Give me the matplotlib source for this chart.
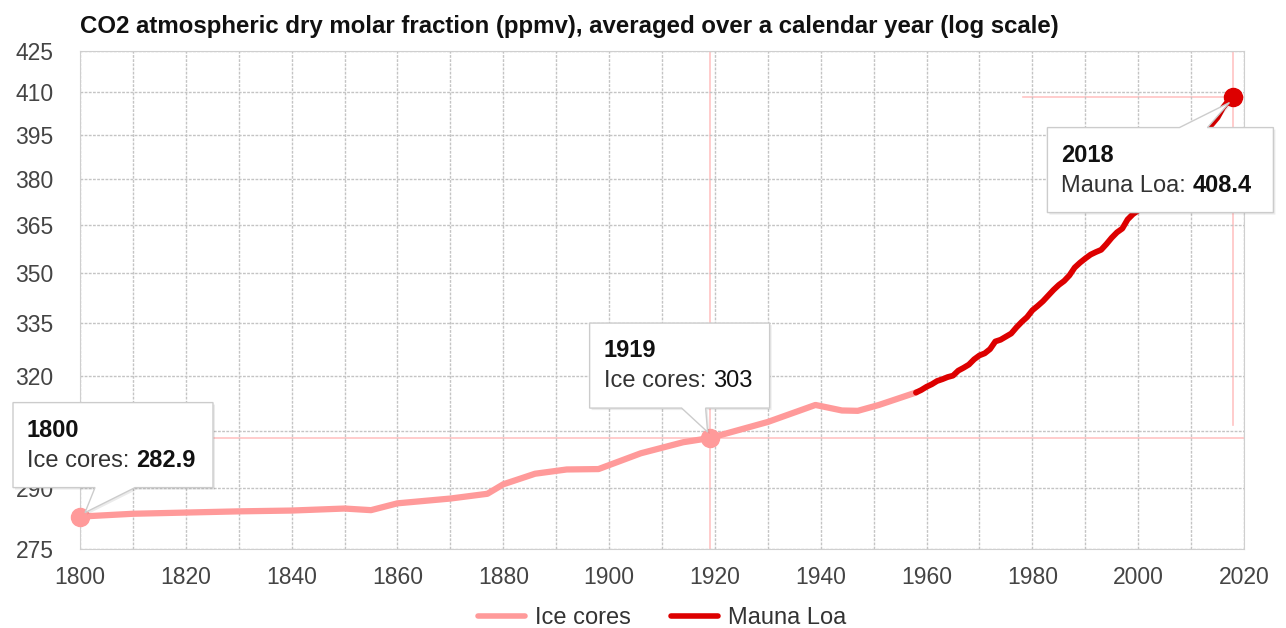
import numpy as np
import matplotlib.pyplot as plt
import matplotlib.ticker as mticker
from matplotlib.patches import Polygon
from matplotlib.transforms import IdentityTransform, ScaledTranslation

plt.rcParams['font.family'] = ['Liberation Sans', 'DejaVu Sans']

# ice core record (annual means, smoothed)
ice_years = [1800, 1810, 1820, 1830, 1840, 1850, 1855, 1860, 1870, 1877, 1880, 1886,
             1892, 1898, 1906, 1914, 1919, 1930, 1939, 1944, 1947, 1951, 1958]
ice_ppm = [282.9, 283.6, 283.9, 284.2, 284.4, 284.9, 284.5, 286.2, 287.4, 288.6, 291.0, 293.7,
           294.8, 294.9, 299.0, 301.9, 303.0, 307.3, 311.9, 310.4, 310.3, 311.9, 315.3]

# Mauna Loa annual means
ml_years = list(range(1958, 2019))
ml_ppm = [315.3, 316.0, 316.9, 317.6, 318.5, 319.0, 319.6, 320.0, 321.4, 322.2, 323.1,
          324.6, 325.7, 326.3, 327.5, 329.7, 330.2, 331.1, 332.0, 333.8, 335.4,
          336.8, 338.8, 340.1, 341.5, 343.2, 344.9, 346.4, 347.6, 349.3, 351.7,
          353.2, 354.5, 355.7, 356.5, 357.2, 359.0, 361.0, 362.7, 363.9, 366.8,
          368.5, 369.7, 371.3, 373.5, 376.0, 377.7, 380.0, 382.1, 384.0, 385.8,
          387.6, 390.1, 391.9, 394.1, 396.7, 398.8, 401.0, 404.4, 406.8, 408.4]

y_ticks = [275, 290, 305, 320, 335, 350, 365, 380, 395, 410, 425]
x_ticks = list(range(1800, 2021, 20))

ICE = '#ff9a9a'
ML = '#dd0000'
GRID = '#c4c4c4'

fig = plt.figure(figsize=(12.86, 6.28), dpi=100)
ax = fig.add_axes([80/1286, 79/628, (1244-80)/1286, (549-51)/628])

ax.set_yscale('log')
ax.set_xlim(1800, 2020)
ax.set_ylim(275, 425)
ax.set_yticks(y_ticks)
ax.yaxis.set_major_formatter(mticker.FormatStrFormatter('%d'))
ax.yaxis.set_minor_locator(mticker.NullLocator())
ax.set_xticks(x_ticks)
ax.set_xticks(range(1800, 2021, 10), minor=True)
ax.tick_params(axis='both', which='both', length=0, labelsize=16.5, labelcolor='#444444')
ax.tick_params(axis='x', pad=12)
ax.tick_params(axis='y', pad=19)
ax.grid(True, which='both', color=GRID, linestyle=(0, (2, 1)), linewidth=1)
for s in ax.spines.values():
    s.set_color('#cfcfcf')

# crosshairs of the highlighted points
ax.axvline(1919, color='#ffc4c4', lw=1.2, zorder=1)
ax.axhline(303.0, color='#ffc4c4', lw=1.2, zorder=1)
ax.axvline(2018, ymin=0.25, color='#ffc4c4', lw=1.2, zorder=1)
ax.axhline(408.4, xmin=0.81, color='#ffc4c4', lw=1.2, zorder=1)

ax.plot(ice_years, ice_ppm, color=ICE, lw=4.5, solid_capstyle='round', label='Ice cores', zorder=3)
ax.plot(ml_years, ml_ppm, color=ML, lw=4.2, solid_capstyle='round', label='Mauna Loa', zorder=4)

ax.plot(1800, 282.9, 'o', ms=13, color=ICE, clip_on=False, zorder=5)
ax.plot(1919, 303.0, 'o', ms=13, color=ICE, clip_on=False, zorder=5)
ax.plot(2018, 408.4, 'o', ms=13, color=ML, clip_on=False, zorder=5)

ax.set_title('CO2 atmospheric dry molar fraction (ppmv), averaged over a calendar year (log scale)',
             loc='left', fontsize=17.3, fontweight='bold', color='#111111', pad=13, x=0)

leg = ax.legend(loc='center', bbox_to_anchor=(0.5, -0.139), ncol=2, frameon=False,
                fontsize=17, handlelength=2.0, columnspacing=1.7, handletextpad=0.42)
for line in leg.get_lines():
    line.set_linewidth(4)
for t in leg.get_texts():
    t.set_color('#333333')


def tooltip(x, y, box, pointer, year, label, value, value_bold=True):
    # box = (left, bottom, right, top) and pointer = (base_l, base_r, tip_x, tip_y)
    # in pixels relative to the data point
    tr = IdentityTransform() + ScaledTranslation(x, y, ax.transData)
    l, b, r, t = box
    bl, br, tx, ty = pointer
    if ty < b:
        pts = [(l, t), (r, t), (r, b), (br, b), (tx, ty), (bl, b), (l, b)]
    else:
        pts = [(l, b), (r, b), (r, t), (br, t), (tx, ty), (bl, t), (l, t)]
    shadow = Polygon([(px + 2, py - 2) for px, py in pts], closed=True, transform=tr,
                     fc='#000000', alpha=0.08, ec='none', zorder=9, clip_on=False)
    body = Polygon(pts, closed=True, transform=tr, fc='white', ec='#cccccc',
                   lw=1, zorder=10, clip_on=False)
    ax.add_patch(shadow)
    ax.add_patch(body)
    ax.text(l + 14, t - 34, year, transform=tr, fontsize=17, fontweight='bold',
            color='#111111', zorder=11, va='baseline', clip_on=False)
    lab = ax.text(l + 14, t - 64, label + ': ', transform=tr, fontsize=17,
                  color='#333333', zorder=11, va='baseline', clip_on=False)
    ax.annotate(value, xy=(1, 0), xycoords=lab, va='bottom', fontsize=17,
                fontweight='bold' if value_bold else 'normal', color='#111111',
                zorder=11, annotation_clip=False)


tooltip(1800, 282.9, (-67, 29, 133, 114), (15, 55, 5, 4), '1800', 'Ice cores', '282.9')
tooltip(1919, 303.0, (-120, 30, 60, 115), (-28, -4, -2, 6), '1919', 'Ice cores', '303',
        value_bold=False)
tooltip(2018, 408.4, (-186, -116, 40, -31), (-54, -26, -4, -6), '2018', 'Mauna Loa', '408.4')

fig.savefig('out.png', dpi=100)
